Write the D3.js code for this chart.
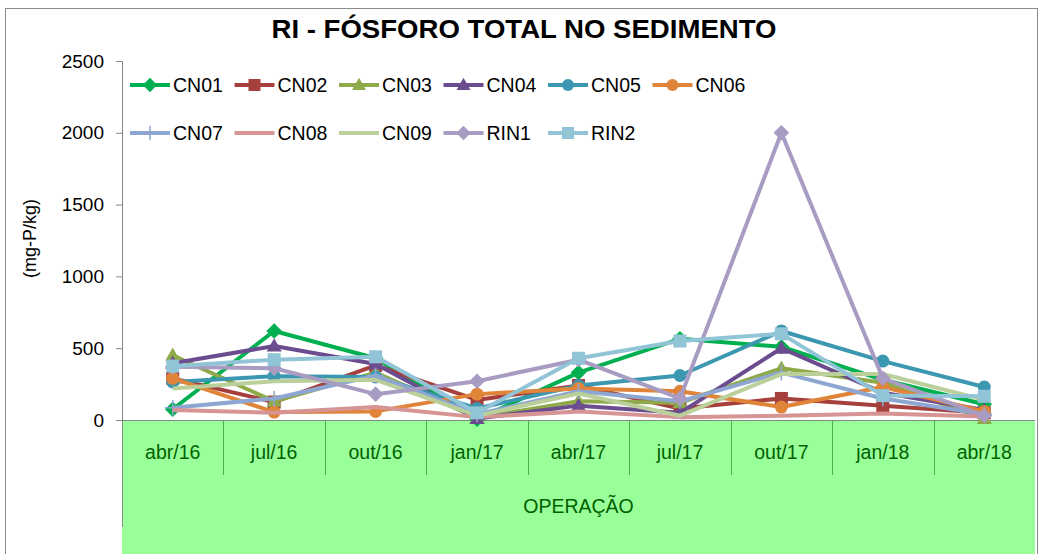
<!DOCTYPE html>
<html lang="pt">
<head>
<meta charset="UTF-8">
<title>RI - Fósforo total no sedimento</title>
<script src="https://d3js.org/d3.v7.min.js"></script>
<style>
  body { margin: 0; background: #fff; }
  svg { display: block; font-family: "Liberation Sans", Arial, sans-serif; }
</style>
</head>
<body>
<svg width="1041" height="554"></svg>
<script>
const months = ["abr/16", "jul/16", "out/16", "jan/17", "abr/17", "jul/17", "out/17", "jan/18", "abr/18"];
const yTicks = [0, 500, 1000, 1500, 2000, 2500];

const CN01 = [75, 620, 430, 5, 330, 565, 510, 280, 110];
const CN02 = [290, 125, 380, 140, 240, 80, 150, 100, 50];
const CN03 = [450, 130, 330, 15, 130, 120, 360, 260, 10];
const CN04 = [395, 515, 390, 10, 100, 50, 500, 190, 70];
const CN05 = [265, 305, 300, 80, 240, 310, 620, 410, 230];
const CN06 = [290, 55, 60, 180, 220, 200, 90, 230, 60];
const CN07 = [85, 150, 310, 40, 200, 130, 330, 150, 40];
const CN08 = [70, 50, 90, 20, 60, 20, 30, 45, 25];
const CN09 = [220, 270, 280, 30, 185, 30, 320, 320, 140];
const RIN1 = [370, 360, 180, 270, 420, 150, 2000, 290, 30];
const RIN2 = [375, 420, 440, 50, 430, 550, 600, 170, 165];

const series = [
  { name: "CN01", values: CN01, color: "#00b050", marker: "diamond" },
  { name: "CN02", values: CN02, color: "#a5403d", marker: "square" },
  { name: "CN03", values: CN03, color: "#8faa4a", marker: "triangle" },
  { name: "CN04", values: CN04, color: "#6b4c8e", marker: "triangle" },
  { name: "CN05", values: CN05, color: "#3c97b0", marker: "circle" },
  { name: "CN06", values: CN06, color: "#e0843a", marker: "circle" },
  { name: "CN07", values: CN07, color: "#8ea7d2", marker: "plus" },
  { name: "CN08", values: CN08, color: "#d69494", marker: "none" },
  { name: "CN09", values: CN09, color: "#bacf99", marker: "none" },
  { name: "RIN1", values: RIN1, color: "#a89cc2", marker: "diamond" },
  { name: "RIN2", values: RIN2, color: "#92c4d8", marker: "square" }
];

const svg = d3.select("svg");
const margin = { top: 61, right: 6, bottom: 134, left: 122 };
const W = 1041, H = 554;
const width = W - margin.left - margin.right;
const height = H - margin.top - margin.bottom;

// moldura do gráfico
svg.append("rect")
  .attr("x", 5.5).attr("y", 8.5)
  .attr("width", 1032).attr("height", 560)
  .attr("fill", "#fff").attr("stroke", "#8c8c8c").attr("stroke-width", 1);

// título
svg.append("text")
  .attr("x", 524).attr("y", 38)
  .attr("text-anchor", "middle")
  .attr("textLength", 505).attr("lengthAdjust", "spacingAndGlyphs")
  .style("font-family", "'Liberation Sans Narrow', 'Liberation Sans', Arial, sans-serif")
  .style("font-weight", "bold").style("font-size", "26px")
  .text("RI - FÓSFORO TOTAL NO SEDIMENTO");

const g = svg.append("g").attr("transform", `translate(${margin.left},${margin.top})`);

const x = d3.scaleBand().domain(months).range([0, width]);
const y = d3.scaleLinear().domain([0, 2500]).range([height, 0]);

// faixa verde de operação
g.append("rect")
  .attr("x", 0).attr("y", height)
  .attr("width", width).attr("height", margin.bottom + 10)
  .attr("fill", "#99ff99");

g.append("line")
  .attr("x1", 0.5).attr("x2", 0.5)
  .attr("y1", height).attr("y2", height + 107)
  .attr("stroke", "#8c8c8c");

g.selectAll(".divider")
  .data(months.slice(1))
  .enter().append("line")
  .attr("class", "divider")
  .attr("x1", d => Math.round(x(d)) + 0.5)
  .attr("x2", d => Math.round(x(d)) + 0.5)
  .attr("y1", height).attr("y2", height + 55)
  .attr("stroke", "#4fb04f").attr("stroke-width", 1);

g.selectAll(".month")
  .data(months)
  .enter().append("text")
  .attr("class", "month")
  .attr("x", d => x(d) + x.bandwidth() / 2)
  .attr("y", height + 39)
  .attr("text-anchor", "middle")
  .attr("fill", "#006100")
  .style("font-size", "19.5px")
  .text(d => d);

g.append("text")
  .attr("x", width / 2).attr("y", height + 93)
  .attr("text-anchor", "middle")
  .attr("fill", "#006100")
  .style("font-size", "19.5px")
  .text("OPERAÇÃO");

// eixo y
const yAxis = g.append("g")
  .call(d3.axisLeft(y).tickValues(yTicks).tickFormat(d3.format("d")).tickSize(6).tickPadding(12));
yAxis.select(".domain").attr("stroke", "#868686").attr("d", `M-6,0.5H0.5V${height}`);
yAxis.selectAll(".tick line").attr("stroke", "#868686");
yAxis.selectAll(".tick text").style("font-size", "19px").attr("fill", "#000")
  .style("font-family", "'Liberation Sans', Arial, sans-serif");

// linha base
g.append("line")
  .attr("x1", -6).attr("x2", width)
  .attr("y1", height + 0.5).attr("y2", height + 0.5)
  .attr("stroke", "#868686");

svg.append("text")
  .attr("transform", `translate(36,${margin.top + height / 2 - 2}) rotate(-90)`)
  .attr("text-anchor", "middle")
  .style("font-size", "18px")
  .text("(mg-P/kg)");

// marcadores
function drawMarker(sel, type, color, size) {
  const s = size;
  if (type === "diamond") {
    sel.append("path").attr("d", `M0,${-s * 0.6}L${s * 0.6},0L0,${s * 0.6}L${-s * 0.6},0Z`).attr("fill", color);
  } else if (type === "square") {
    sel.append("rect").attr("x", -s / 2).attr("y", -s / 2).attr("width", s).attr("height", s).attr("fill", color);
  } else if (type === "triangle") {
    sel.append("path").attr("d", `M0,${-s * 0.6}L${s * 0.58},${s * 0.42}L${-s * 0.58},${s * 0.42}Z`).attr("fill", color);
  } else if (type === "circle") {
    sel.append("circle").attr("r", s / 2).attr("fill", color);
  } else if (type === "plus") {
    sel.append("path").attr("d", `M0,${-s * 0.6}V${s * 0.6}M${-s * 0.6},0H${s * 0.6}`)
      .attr("stroke", color).attr("stroke-width", 1.5);
  }
}

const line = d3.line()
  .x((d, i) => x(months[i]) + x.bandwidth() / 2)
  .y(d => y(d));

series.forEach(s => {
  g.append("path")
    .datum(s.values)
    .attr("fill", "none")
    .attr("stroke", s.color)
    .attr("stroke-width", 4)
    .attr("stroke-linejoin", "round")
    .attr("d", line);
  s.values.forEach((v, i) => {
    const m = g.append("g")
      .attr("transform", `translate(${x(months[i]) + x.bandwidth() / 2},${y(v)})`);
    drawMarker(m, s.marker, s.color, 13);
  });
});

// legenda
const legend = svg.append("g");
series.forEach((s, i) => {
  const row = i < 6 ? 0 : 1;
  const col = i < 6 ? i : i - 6;
  const lx = 130 + col * 104.5;
  const ly = 85 + row * 48;
  const item = legend.append("g").attr("transform", `translate(${lx},${ly})`);
  item.append("line")
    .attr("x1", 0).attr("x2", 40)
    .attr("stroke", s.color).attr("stroke-width", 4);
  const m = item.append("g").attr("transform", "translate(20,0)");
  drawMarker(m, s.marker, s.color, 12);
  item.append("text")
    .attr("x", 43).attr("y", 7)
    .style("font-size", "19.5px")
    .text(s.name);
});
</script>
</body>
</html>
